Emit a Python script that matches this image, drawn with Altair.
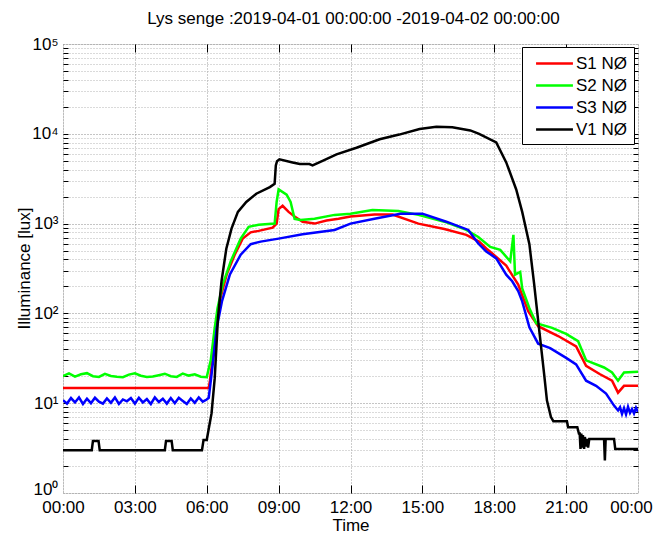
import altair as alt
import pandas as pd

FONT = "Liberation Sans"
chart_title = "Lys senge :2019-04-01 00:00:00 -2019-04-02 00:00:00"
series_names = ["S1 NØ", "S2 NØ", "S3 NØ", "V1 NØ"]
series_colors = ["#ff0000", "#00ff00", "#0000ff", "#000000"]
x_tick_hours = [0, 3, 6, 9, 12, 15, 18, 21, 24]
x_tick_labels = ["00:00", "03:00", "06:00", "09:00", "12:00", "15:00", "18:00", "21:00", "00:00"]
y_decades = [1, 10, 100, 1000, 10000, 100000]
y_decade_labels = ["10⁰", "10¹", "10²", "10³", "10⁴", "10⁵"]
y_minor_ticks = [d * 10 ** k for k in range(5) for d in range(1, 10)] + [100000]

# S1 (red)
s1_times = ["00:00", "06:05", "06:08", "06:20", "06:32", "06:50", "07:10", "07:30", "07:50", "08:10",
            "08:45", "08:55", "09:00", "09:10", "09:25", "09:40", "10:00", "10:30", "11:00", "11:30",
            "12:00", "13:00", "13:45", "14:50", "15:55", "16:50", "17:22", "17:40", "17:55", "18:30",
            "19:00", "19:25", "19:50", "20:40", "21:25", "21:50", "22:25", "22:55", "23:10", "23:25", "24:00"]
s1_values = [14.8, 14.8, 17.8, 49, 136, 272, 450, 680, 800, 830,
             900, 1000, 1450, 1580, 1350, 1200, 1050, 1000, 1080, 1130,
             1200, 1260, 1260, 1000, 870, 750, 630, 530, 465, 340,
             210, 106, 72, 56, 43, 26, 21, 17.8, 13.1, 15.6, 15.6]

# S2 (green)
s2_night_times = ["00:00", "00:15", "00:30", "00:45", "01:00", "01:15", "01:30", "01:45", "02:00", "02:15",
                  "02:30", "02:45", "03:00", "03:15", "03:30", "03:45", "04:00", "04:15", "04:30", "04:45",
                  "05:00", "05:15", "05:30", "05:45"]
s2_night_values = [20.0, 21.5, 19.8, 21.0, 21.6, 20.0, 19.6, 21.2, 20.1, 19.7,
                   19.5, 20.8, 21.5, 20.2, 19.6, 19.8, 20.5, 21.3, 20.0, 19.6,
                   21.4, 20.3, 21.0, 19.7]
s2_day_times = ["06:00", "06:10", "06:20", "06:27", "06:40", "07:00", "07:25", "07:45", "08:10", "08:50",
                "08:55", "09:00", "09:20", "09:30", "09:40", "09:55", "10:30", "11:20", "12:00", "12:55",
                "14:00", "14:50", "15:55", "16:50", "17:20", "17:50", "18:15", "18:40", "18:48", "18:52",
                "19:05", "19:10", "19:28", "19:45", "20:25", "21:00", "21:30", "21:50", "22:35", "22:55",
                "23:10", "23:25", "24:00"]
s2_day_values = [19.5, 30, 69, 114, 210, 380, 680, 920, 970, 1000,
                 1740, 2400, 2100, 1740, 1130, 1100, 1130, 1250, 1290, 1420,
                 1380, 1250, 1050, 850, 710, 550, 510, 380, 750, 270,
                 290, 190, 114, 78, 69, 59, 49, 30, 25, 22,
                 17.8, 22, 22.4]

# S3 (blue)
s3_night_times = ["00:00", "00:10", "00:20", "00:30", "00:40", "00:50", "01:00", "01:10", "01:20", "01:30",
                  "01:40", "01:50", "02:00", "02:10", "02:20", "02:30", "02:40", "02:50", "03:00", "03:10",
                  "03:20", "03:30", "03:40", "03:50", "04:00", "04:10", "04:20", "04:30", "04:40", "04:50",
                  "05:00", "05:10", "05:20", "05:30", "05:40", "05:50"]
s3_night_values = [10.8, 9.9, 11.4, 10.2, 11.6, 9.8, 11.2, 10.0, 11.5, 10.4,
                   9.9, 11.3, 10.1, 11.6, 9.8, 11.0, 10.5, 11.4, 9.9, 11.5,
                   10.2, 11.1, 9.8, 11.6, 10.3, 11.2, 9.9, 11.4, 10.0, 11.5,
                   10.6, 9.8, 11.3, 10.1, 11.6, 10.4]
s3_day_times = ["06:00", "06:05", "06:15", "06:25", "06:38", "06:58", "07:25", "07:50", "08:15", "09:00",
                "10:00", "11:20", "12:00", "13:00", "14:05", "15:00", "16:00", "16:55", "17:20", "17:40",
                "18:05", "18:30", "18:45", "19:00", "19:10", "19:28", "19:50", "20:20", "21:00", "21:25",
                "21:50", "22:15", "22:40", "23:00", "23:10", "23:15", "23:20", "23:25", "23:30", "23:35",
                "23:40", "23:45", "23:50", "23:55", "24:00"]
s3_day_values = [11.0, 11.5, 27, 69, 136, 272, 450, 590, 630, 680,
                 760, 850, 1000, 1130, 1290, 1290, 1050, 850, 600, 490,
                 410, 270, 228, 177, 136, 70, 46, 41, 32, 27,
                 17.8, 15.6, 12.8, 9.4, 8.3, 9.0, 7.6, 8.8, 7.5, 9.1,
                 7.8, 8.6, 7.7, 8.9, 8.0]

# V1 (black)
v1_times = ["00:00", "01:12", "01:15", "01:29", "01:32", "04:15", "04:18", "04:32", "04:35", "05:48",
            "05:52", "06:00", "06:06", "06:12", "06:20", "06:28", "06:37", "06:49", "07:02", "07:18",
            "07:39", "08:04", "08:38", "08:50", "08:53", "08:56", "09:02", "09:35", "09:53", "10:17",
            "10:25", "10:50", "11:25", "12:15", "13:13", "14:02", "14:53", "15:35", "16:15", "17:00",
            "17:22", "18:05", "18:30", "18:55", "19:10", "19:28", "19:40", "19:52", "20:05", "20:12",
            "20:22", "20:28", "21:02", "21:05", "21:28", "21:32", "21:34", "21:36", "21:38", "21:40",
            "21:42", "21:45", "21:47", "21:50", "21:53", "21:55", "21:58", "22:00", "22:35", "22:37",
            "22:39", "23:00", "23:03", "24:00"]
v1_values = [3.0, 3.0, 3.8, 3.8, 3.0, 3.0, 3.8, 3.8, 3.0, 3.0,
             3.9, 3.9, 5.5, 7.7, 19, 88, 228, 525, 880, 1350,
             1740, 2150, 2550, 2770, 4450, 4950, 5200, 4800, 4600, 4600,
             4450, 5000, 5900, 7000, 8700, 9800, 11300, 12000, 11800, 10900,
             10000, 8000, 4800, 2400, 1350, 590, 210, 69, 21, 10.7,
             7.0, 6.3, 6.3, 5.4, 5.4, 4.6, 4.6, 3.1, 4.6, 3.2,
             4.4, 3.1, 4.2, 3.3, 4.0, 3.2, 4.0, 4.0, 4.0, 2.3,
             4.0, 4.0, 3.1, 3.1]


def to_hours(t):
    h, m = t.split(":")
    return int(h) + int(m) / 60.0


series_data = [
    (series_names[0], s1_times, s1_values),
    (series_names[1], s2_night_times + s2_day_times, s2_night_values + s2_day_values),
    (series_names[2], s3_night_times + s3_day_times, s3_night_values + s3_day_values),
    (series_names[3], v1_times, v1_values),
]
rows = []
for name, times, vals in series_data:
    for i, (t, v) in enumerate(zip(times, vals)):
        rows.append({"series": name, "hour": to_hours(t), "lux": v, "order": i})
df = pd.DataFrame(rows)

x_label_expr = "[" + ",".join("'%s'" % s for s in x_tick_labels) + "][round(datum.value / 3)]"
y_label_expr = " : ".join(
    "datum.value == %d ? '%s'" % (v, s) for v, s in zip(y_decades, y_decade_labels)
) + " : ''"
decade_test = " || ".join("datum.value == %d" % v for v in y_decades)

x_scale = alt.Scale(domain=[0, 24], nice=False, zero=False)
y_scale = alt.Scale(type="log", domain=[1, 100000], nice=False)

x_main_axis = alt.Axis(
    values=x_tick_hours, labelExpr=x_label_expr, title="Time", grid=True,
    gridDash=[1, 2], gridColor="#9a9a9a", gridWidth=1, ticks=False, domain=False,
    labelFontSize=17, titleFontSize=17, labelPadding=6,
    labelOffset={"condition": {"test": "datum.value == 24", "value": -7}, "value": 0},
    titleY=32, titleBaseline="middle",
    labelColor="black", titleColor="black", titleFontWeight="normal",
    labelFont=FONT, titleFont=FONT, labelOverlap=False, labelFlush=False,
)
y_main_axis = alt.Axis(
    values=y_minor_ticks, labelExpr=y_label_expr, title="Illuminance [lux]", grid=True,
    gridDash=[1, 2],
    gridColor={"condition": {"test": decade_test, "value": "#8a8a8a"}, "value": "#b4b4b4"},
    gridWidth=1, ticks=False, domain=False,
    labelFontSize=17, titleFontSize=17, labelPadding=5,
    labelOffset={"condition": {"test": "datum.value == 1", "value": -4}, "value": 0},
    titleX=-39, titleY=224, titleAngle=270, titleBaseline="middle", titleAlign="center",
    labelColor="black", titleColor="black", titleFontWeight="normal",
    labelFont=FONT, titleFont=FONT, labelOverlap=False, labelFlush=False,
)

main = alt.Chart(df).mark_line(strokeWidth=2.5, clip=True).encode(
    x=alt.X("hour:Q", scale=x_scale, axis=x_main_axis),
    y=alt.Y("lux:Q", scale=y_scale, axis=y_main_axis),
    color=alt.Color(
        "series:N",
        scale=alt.Scale(domain=series_names, range=series_colors),
        legend=alt.Legend(
            title=None, orient="none", legendX=459, legendY=3,
            strokeColor="black", fillColor="white", padding=6,
            symbolType="M-2,0H2", symbolSize=340, symbolStrokeWidth=2.5,
            symbolOffset=16, labelOffset=11,
            labelFontSize=17, labelFont=FONT, labelColor="black",
            rowPadding=3, cornerRadius=0,
        ),
    ),
    order="order:Q",
)


def tick_layer(x_orient, y_orient):
    return alt.Chart(df).mark_line(opacity=0).encode(
        x=alt.X("hour:Q", scale=x_scale, axis=alt.Axis(
            orient=x_orient, values=x_tick_hours[1:-1], offset=-8, tickSize=8,
            labels=False, grid=False, domain=False, title=None,
            tickColor="black", tickWidth=1)),
        y=alt.Y("lux:Q", scale=y_scale, axis=alt.Axis(
            orient=y_orient, values=y_minor_ticks[1:-1], offset=-5, tickSize=5,
            labels=False, grid=False, domain=False, title=None,
            tickColor="black", tickWidth=1)),
        detail="series:N",
    )


chart = alt.layer(
    main, tick_layer("bottom", "left"), tick_layer("top", "right")
).resolve_axis(x="independent", y="independent").properties(
    width=575, height=449,
    title=alt.TitleParams(text=chart_title, fontSize=17, fontWeight="normal", font=FONT,
                          color="black", anchor="middle", frame="group", offset=7, dx=3),
    autosize=alt.AutoSizeParams(type="none"),
    padding={"left": 55, "top": 36, "right": 15, "bottom": 41},
).configure_view(stroke="black", strokeWidth=1).configure(font=FONT, background="white")

chart.save("out.html", embed_options={"renderer": "svg", "actions": False})
